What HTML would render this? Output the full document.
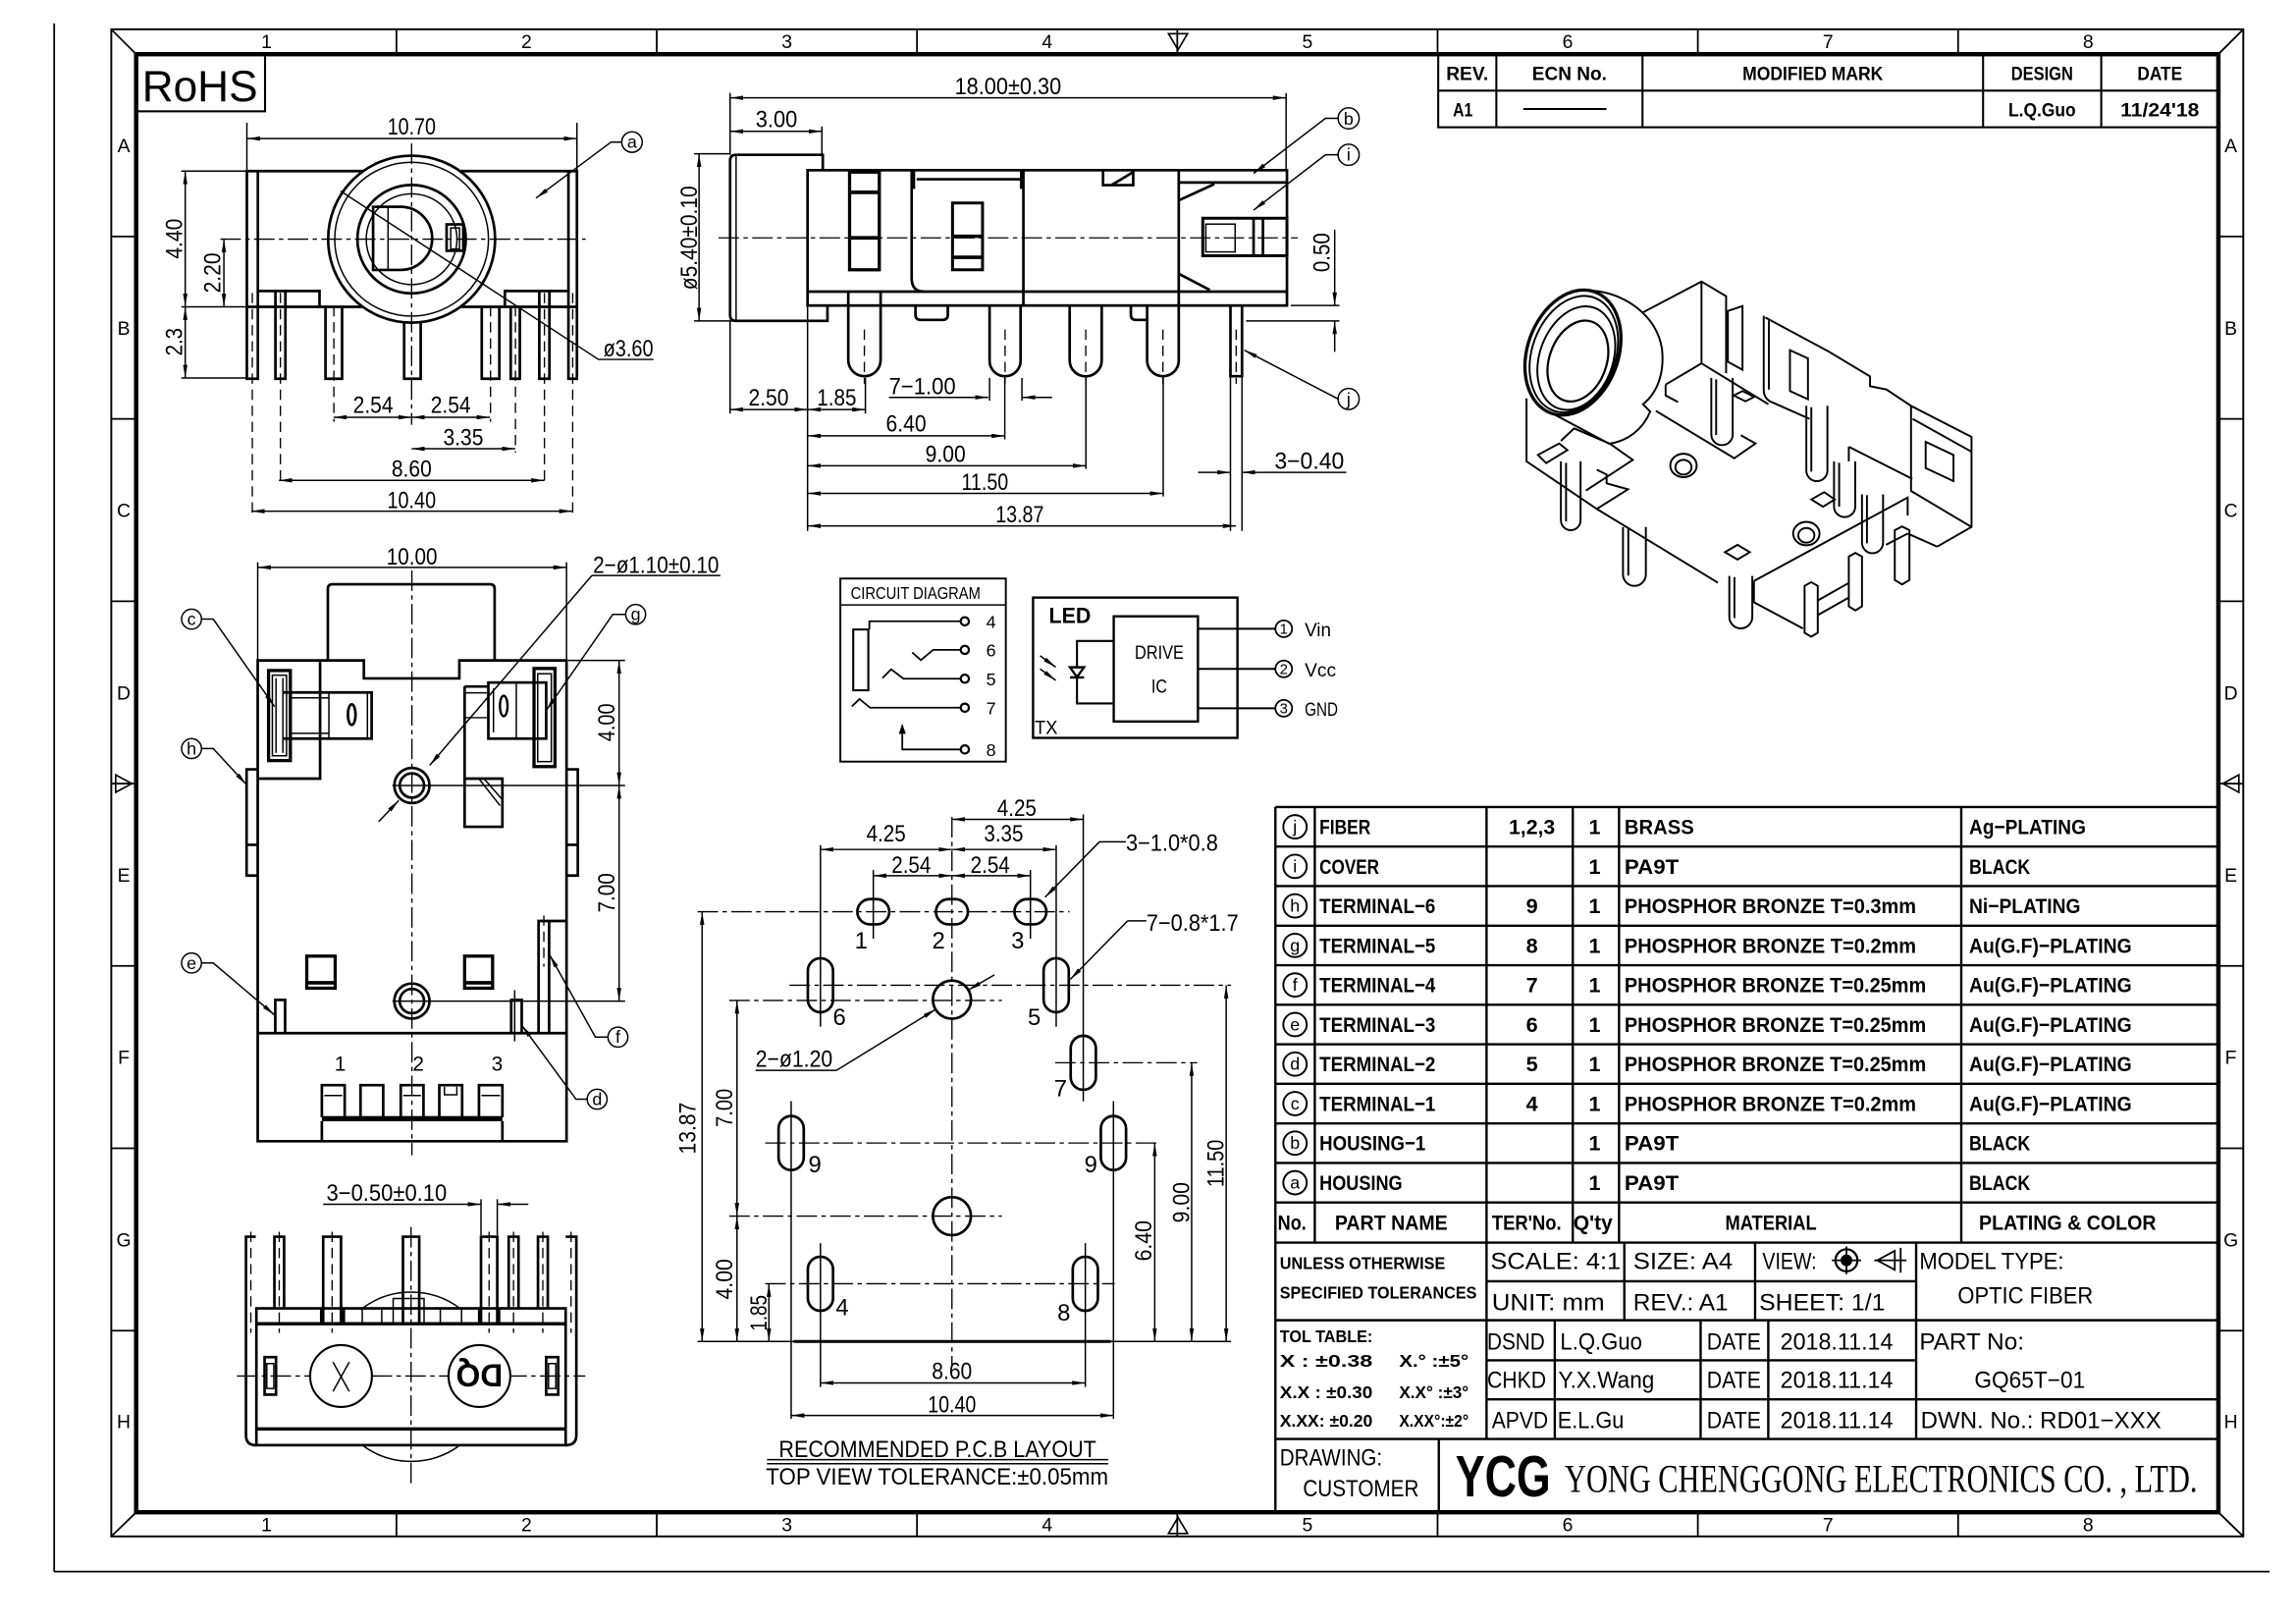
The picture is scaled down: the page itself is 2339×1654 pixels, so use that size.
<!DOCTYPE html>
<html><head><meta charset="utf-8"><style>
html,body{margin:0;padding:0;background:#fff;width:2339px;height:1654px;overflow:hidden}
svg{display:block}
text{font-family:"Liberation Sans",Arial,sans-serif;fill:#000;stroke:none}
.b{font-weight:bold}
.d{font-size:16px}
.m{text-anchor:middle}
.th{stroke-width:1}
.tk{stroke-width:1.8}
.cl{stroke-dasharray:14 3 3 3;stroke-width:.9}
.dl{stroke-dasharray:7 4;stroke-width:.9}
.dm{stroke-width:1;marker-start:url(#A);marker-end:url(#A)}
.ae{stroke-width:1;marker-end:url(#A)}
</style></head><body>
<svg width="2339" height="1654" viewBox="0 0 1568 1108.8" xmlns="http://www.w3.org/2000/svg">
<defs><marker id="A" viewBox="0 0 12 4" refX="12" refY="2" markerWidth="9" markerHeight="3" markerUnits="userSpaceOnUse" orient="auto-start-reverse"><path d="M0,0L12,2L0,4z" fill="#000" stroke="none"/></marker></defs>
<rect width="1568" height="1108.8" fill="#fff"/>
<g fill="none" stroke="#000">
<!-- FRAME -->
<line x1="37" y1="16" x2="37" y2="1073" stroke-width="1.2"/>
<line x1="37" y1="1073" x2="1550" y2="1073" stroke-width="1.2"/>
<rect x="76" y="20" width="1456" height="1029" stroke-width="1.3"/>
<rect x="93" y="37" width="1422" height="995.5" stroke-width="3"/>
<path stroke-width="1.2" d="M76,20L93,37M1532,20L1515,37M1532,1049L1515,1032.5M76,1049L93,1032.5"/>
<path stroke-width="1.2" d="M270.75,20V37M448.5,20V37M626.25,20V37M804,20V37M981.75,20V37M1159.5,20V37M1337.25,20V37M270.75,1032.5V1049M448.5,1032.5V1049M626.25,1032.5V1049M804,1032.5V1049M981.75,1032.5V1049M1159.5,1032.5V1049M1337.25,1032.5V1049"/>
<path stroke-width="1.2" d="M76,161.5H93M76,286H93M76,410.5H93M76,535H93M76,659.5H93M76,784H93M76,908.5H93M1515,161.5H1532M1515,286H1532M1515,410.5H1532M1515,535H1532M1515,659.5H1532M1515,784H1532M1515,908.5H1532"/>
<path stroke-width="1.1" d="M798,23H811L804.5,34ZM798,1047H811L804.5,1036ZM79,529V541L90,535ZM1529,529V541L1518,535Z"/>

<!-- REV TABLE -->
<g stroke-width="1.4">
<rect x="982.2" y="36.7" width="532.8" height="50.2"/>
<path d="M982.2,61.9H1515M1021.9,36.7V86.9M1121.7,36.7V86.9M1354.3,36.7V86.9M1435,36.7V86.9"/>
<path d="M1040.3,74.4H1097.1"/>
</g>
<rect x="93" y="37" width="88" height="39" stroke-width="1.4"/>

<!-- FRONT VIEW (top-left) -->
<path class="tk" d="M168.6,116.8H394V209.5H168.6Z"/>
<path class="tk" d="M176.1,116.8V209.5M388.2,116.8V209.5"/>
<path class="tk" d="M168.6,209.5V258.6H176.1V209.5M388.2,209.5V258.6H394V209.5"/>
<path class="tk" d="M176.1,198.7H218.2V209.5M344.8,209.5V198.7H388.2"/>
<path class="tk" d="M188.1,198.7V258.6H194.9V198.7M222.3,209.5V258.6H233.6V209.5M329,209.5V258.6H341V209.5M348.8,209.5V258.6H355V209.5M368.3,198.7V258.6H375.2V198.7"/>
<circle cx="281.1" cy="163.3" r="57" fill="#fff" class="tk"/>
<circle cx="281.1" cy="163.3" r="52.5" class="th"/>
<circle cx="281.1" cy="163.3" r="37" class="tk"/>
<circle cx="281.1" cy="163.3" r="31" class="th"/>
<path class="tk" d="M276,220.3V258.6H287.3V220.3"/>
<path class="tk" d="M254.8,141.2H273.6A21.5,21.5 0 0 1 273.6,184.3H254.8Z"/>
<path class="th" d="M265,141.2V184.3"/>
<rect class="tk" x="305" y="153.2" width="11.4" height="18"/>
<rect class="th" x="307.8" y="155.6" width="6" height="14.4"/>
<path class="cl" d="M150.5,163.3H400M281.1,98V290"/>
<path class="dl" d="M172.3,200V352M191.5,200V331M228,209V288M335,209V288M352,209V309M371.8,200V331M391.1,200V352"/>
<line class="dm" x1="168.6" y1="94.6" x2="394" y2="94.6"/>
<path class="th" d="M168.6,83.8V116.8M394,83.8V116.8"/>
<line class="dm" x1="126.5" y1="116.8" x2="126.5" y2="209.5"/>
<line class="dm" x1="152.9" y1="163.3" x2="152.9" y2="209.5"/>
<line class="dm" x1="126.5" y1="209.5" x2="126.5" y2="258.1"/>
<path class="th" d="M123.8,116.8H168.6M123.8,209.5H168.6M123.8,258.1H168.6"/>
<line class="dm" x1="227.8" y1="284.9" x2="281.1" y2="284.9"/>
<line class="dm" x1="281.1" y1="284.9" x2="334.5" y2="284.9"/>
<line class="dm" x1="281.1" y1="306.4" x2="351.9" y2="306.4"/>
<line class="dm" x1="190.5" y1="328" x2="371.8" y2="328"/>
<line class="dm" x1="171.7" y1="349" x2="390.9" y2="349"/>
<circle cx="431.6" cy="97" r="7" class="th"/>
<path class="ae" d="M424.6,97H417.3L366,135.3"/>
<path class="th" d="M446.3,245.4H408.7L232.6,130.5"/>

<!-- SIDE VIEW -->
<line class="dm" x1="498.6" y1="66.8" x2="878.3" y2="66.8"/>
<path class="th" d="M498.6,63.5V105.7M878.3,63.5V115.7M561.3,86.4V105.7"/>
<line class="dm" x1="498.6" y1="89.7" x2="561.3" y2="89.7"/>
<path class="tk" d="M561.9,116.2V105.7H502.5Q498.6,105.7 498.6,109.6V215.2Q498.6,219.1 502.5,219.1H565.1V208.6"/>
<path class="th" d="M502.7,106V219"/>
<rect class="tk" x="551.5" y="116.2" width="327.4" height="92.4"/>
<path class="tk" d="M551.5,199.1H878.9"/>
<rect x="580.2" y="117.5" width="20.3" height="66.7" stroke-width="2.2"/>
<path stroke-width="2.5" d="M580.2,131.3H600.5M580.2,162.4H600.5"/>
<path class="tk" d="M622.6,116.2V190Q622.6,199.1 631,199.1M698.9,116.2V208.6M626,122.4H698.9"/>
<path stroke-width="2.4" d="M623.8,116.2V129M697.7,116.2V129"/>
<rect x="650.5" y="138.6" width="20.5" height="45.6" stroke-width="2"/>
<path stroke-width="2.4" d="M650.5,161.3H671M650.5,175.7H671"/>
<path class="tk" d="M753.3,116.2V126.4H773.9V116.2M759,126.4L773.9,117.5"/>
<path class="tk" d="M805,116.2V208.6M805,124.6H878.9M805,136.8L829.3,125.7M805,186.9L826.2,198"/>
<rect x="821.4" y="149" width="57.5" height="25.6" stroke-width="2"/>
<rect class="th" x="823.5" y="153" width="20" height="19"/>
<path class="tk" d="M856.1,149V174.6M862.5,149V174.6"/>
<path class="cl" d="M490.7,162.4H886.2"/>
<path class="tk" d="M579.3,199.1V245.8A11.05,11.05 0 0 0 601.4,245.8V199.1"/>
<path class="tk" d="M675.8,208.6V246.3A10.6,10.6 0 0 0 697,246.3V208.6"/>
<path class="tk" d="M730.5,208.6V246A10.95,10.95 0 0 0 752.4,246V208.6"/>
<path class="tk" d="M783.4,208.6V246.1A10.8,10.8 0 0 0 805,246.1V208.6"/>
<path class="tk" d="M840.3,208.6V256.9H848.2V208.6"/>
<path class="tk" d="M625.2,208.6V215Q625.2,218.4 629,218.4H643.5Q647.3,218.4 647.3,215V208.6M772.3,208.6V215Q772.3,218.4 776,218.4H783.4"/>
<path class="dl" d="M590.3,225V262M686.4,225V262M741.5,225V262M794.2,225V262M844.2,225V262"/>
<line class="dm" x1="498.6" y1="279.6" x2="551.5" y2="279.6"/>
<line class="dm" x1="551.5" y1="279.6" x2="591" y2="279.6"/>
<path class="ae" d="M607.1,271.3H674.9"/>
<path class="ae" d="M718.5,271.3H698"/>
<line class="dm" x1="551.5" y1="297.6" x2="686.2" y2="297.6"/>
<line class="dm" x1="551.5" y1="318" x2="741.6" y2="318"/>
<line class="dm" x1="551.5" y1="336.9" x2="794.4" y2="336.9"/>
<line class="dm" x1="551.5" y1="359.1" x2="844.1" y2="359.1"/>
<path class="th" d="M498.6,219.1V282.4M551.5,208.6V362.5M591,258V282.4M675.8,258V273.5M697.9,258V273.5M686.2,257V300M741.6,257V320.2M794.4,257V339M840.3,257V362.5M848.2,257V362.5"/>
<path class="ae" d="M919.4,322.5H848.2"/>
<path class="ae" d="M818.2,322.5H840.3"/>
<line class="dm" x1="477.4" y1="105" x2="477.4" y2="219.1"/>
<path class="th" d="M474,105H498.6M474,219.1H551.5"/>
<path class="ae" d="M911.5,156.8V208.6"/>
<path class="ae" d="M911.5,240.2V219.1"/>
<path class="th" d="M881.5,208.6H914.7M851,219.1H914.7"/>
<circle cx="921" cy="80.8" r="7.2" class="th"/>
<circle cx="921" cy="105.7" r="7.2" class="th"/>
<circle cx="921" cy="272.4" r="7.2" class="th"/>
<path class="ae" d="M913.8,80.8H905.2L856.1,118.4"/>
<path class="ae" d="M913.8,105.7H905.2L856.1,143.5"/>
<path class="ae" d="M913.8,272.4L849.8,239.1"/>

<!-- CIRCUIT DIAGRAM -->
<rect x="573.9" y="395" width="113" height="125" stroke-width="1.3"/>
<path class="th" d="M573.9,413H686.9"/>
<g stroke-width="1.5">
<circle cx="658.9" cy="424.2" r="2.8"/><circle cx="658.9" cy="443.7" r="2.8"/><circle cx="658.9" cy="463.4" r="2.8"/><circle cx="658.9" cy="483.2" r="2.8"/><circle cx="658.9" cy="511.7" r="2.8"/>
</g>
<path stroke-width="1.2" d="M656.1,424.2H593.7V429.8M656.1,443.7H637.3L628.9,450.7L623,445.5M656.1,463.4H617L608.6,457L602.6,463M656.1,483.2H594.2L587,477.3L581.8,482.2M656.1,511.7H616.2V500"/>
<rect x="582.7" y="429.8" width="10.3" height="41.5" stroke-width="1.4"/>
<path d="M613.8,501L616.2,494L618.6,501Z" fill="#000" stroke="none"/>
<rect x="705.5" y="408" width="139.6" height="95.8" stroke-width="1.6"/>
<rect x="760.6" y="420.8" width="57.5" height="71.8" stroke-width="1.6"/>
<path stroke-width="1.4" d="M818.1,429.3H871M818.1,456.7H871M818.1,483.6H871M760.6,437.6H735.5V480.3H760.6"/>
<circle cx="876.7" cy="429.3" r="5.7" stroke-width="1.2"/>
<circle cx="876.7" cy="456.7" r="5.7" stroke-width="1.2"/>
<circle cx="876.7" cy="483.6" r="5.7" stroke-width="1.2"/>
<path d="M730.7,455.6H740.3L735.5,462.3ZM730.7,462.5H740.3" stroke-width="1.6" fill="#fff"/>
<path class="ae" stroke-width="1.6" d="M710.3,447.7L721,455.5"/>
<path class="ae" stroke-width="1.6" d="M710.3,456.7L721,464.5"/>

<!-- MID-LEFT VIEW -->
<line class="dm" x1="176" y1="387.4" x2="386.9" y2="387.4"/>
<path class="th" d="M176,383.9V450.9M386.9,383.9V450.9"/>
<path class="tk" d="M223.9,450.9V402Q223.9,398.9 227,398.9H334.7Q337.8,398.9 337.8,402V450.9"/>
<path class="tk" d="M176,450.9H248.5V463.2H313.7V450.9H386.9V779.2H176Z"/>
<path class="tk" d="M176,705.4H386.9M218.6,450.9V531.6H176"/>
<rect x="183.4" y="457.8" width="14.9" height="61.5" stroke-width="2.2"/>
<rect class="th" x="186" y="461" width="9.7" height="55"/>
<path class="th" d="M188.5,463V514M193.2,463V514"/>
<path class="tk" d="M193.5,472.8H253.8V504.3H193.5"/>
<path class="th" d="M198.3,476.5H224.6M198.3,500.7H224.6M224.6,472.8V504.3M250.9,472.8V504.3"/>
<ellipse cx="240.2" cy="487.9" rx="2.6" ry="7" stroke-width="1.8"/>
<path class="tk" d="M317.3,468.7V564.5H343.1V531.6H317.3"/>
<path class="th" d="M327,531.6L341.5,550M330.5,531.6L343.1,546"/>
<path class="tk" d="M317.3,468.7H333.5"/>
<rect class="tk" x="333.5" y="466" width="39.5" height="38.3"/>
<path class="th" d="M352.6,466V504.3M337,470V500M317.3,473H333.5M317.3,490H333.5"/>
<ellipse cx="344" cy="482" rx="2.6" ry="7" stroke-width="1.6"/>
<rect x="364.7" y="456.4" width="14.3" height="67" stroke-width="2.2"/>
<rect class="th" x="367.2" y="460" width="9.3" height="60"/>
<circle cx="281.3" cy="536.3" r="12" class="tk"/><circle cx="281.3" cy="536.3" r="8.3" class="tk"/>
<circle cx="281.3" cy="683.5" r="12" class="tk"/><circle cx="281.3" cy="683.5" r="8.3" class="tk"/>
<path class="cl" d="M281.3,389.4V788.8"/>
<path class="th" d="M268,536.3H426.9M268,683.5H426.9M388,450.9H426.9"/>
<rect x="209.5" y="652.8" width="19.4" height="21.9" stroke-width="2.2"/>
<rect x="317.3" y="652.8" width="19.1" height="21.9" stroke-width="2.2"/>
<path stroke-width="2.5" d="M209.5,671H228.9M317.3,671H336.4"/>
<path class="tk" d="M176,525.3H168.4V597.8H176M168.4,576.8H176M386.9,525.3H394.6V597.8H386.9M386.9,576.8H394.6"/>
<path class="tk" d="M188,705.4V682.7H194.7V705.4"/>
<path class="tk" d="M367.8,705.4V628.8H386.9M375,628.8V705.4"/>
<path class="dl" d="M371.4,625V660"/>
<path class="tk" d="M349.1,705.4V682.7H356.3V705.4"/>
<path class="th" d="M351.5,676V711"/>
<path class="tk" d="M219.8,762.8V740.9H235.4V762.8M246.2,762.8V740.9H261.7V762.8M273.7,762.8V740.9H289.2V762.8M300,762.8V740.9H315.6V762.8M327.1,762.8V740.9H343.1V762.8"/>
<rect x="219.8" y="762" width="123.3" height="3.5" fill="#000" stroke="none"/>
<path class="tk" d="M219.8,765.5V779.2M343.1,765.5V779.2"/>
<path class="th" d="M221.5,748H233.7M275.4,748H287.5M328.8,748H341.4M303.5,742V747.5H312V742"/>
<line class="dm" x1="422.8" y1="450.9" x2="422.8" y2="536.3"/>
<line class="dm" x1="422.8" y1="536.3" x2="422.8" y2="683.5"/>
<path class="th" d="M404.2,392.9H492"/>
<path class="ae" d="M404.2,392.9L293.5,522.5"/>
<path class="ae" d="M258.6,561L272.3,546.5"/>
<circle cx="130.8" cy="422.7" r="6.8" class="th"/>
<circle cx="130.8" cy="511.1" r="6.8" class="th"/>
<circle cx="130.8" cy="657.5" r="6.8" class="th"/>
<circle cx="434.1" cy="419.5" r="6.8" class="th"/>
<circle cx="422" cy="708.1" r="6.8" class="th"/>
<circle cx="407.8" cy="750.5" r="6.8" class="th"/>
<path class="ae" d="M137.6,422.7H145.6L187.5,482.4"/>
<path class="ae" d="M137.6,511.1H145.6L168.4,535.7"/>
<path class="ae" d="M137.6,657.5H145.6L187.5,693"/>
<path class="ae" d="M427.3,419.5H418.5L373,485.1"/>
<path class="ae" d="M415.2,708.1H406.6L375.4,652"/>
<path class="ae" d="M401,750.5H393.4L356.3,699.9"/>

<!-- BOTTOM-LEFT VIEW -->
<path class="ae" d="M220.7,822.2H328.5"/>
<path class="ae" d="M360.8,822.2H339.6"/>
<path class="th" d="M328.5,818.8V843.3M339.6,818.8V843.3"/>
<path class="tk" d="M174.7,844.4H168V980Q168,986.7 174.7,986.7M386.3,844.4H393.6V980Q393.6,986.7 386.3,986.7"/>
<path class="tk" d="M187.4,893.3V844.4H194V893.3M220.7,904V844.4H232.9V904M275.2,904V844.4H286.3V904M328.5,904V844.4H339.6V904M347.4,893.3V844.4H354.1V893.3M367.4,893.3V844.4H374.1V893.3"/>
<path class="dl" d="M171.3,841V910M190.7,841V910M226.8,841V910M334,841V910M350.7,841V910M370.7,841V910M390,841V910"/>
<path class="cl" d="M280.7,837.7V1013.4M161.8,939.5H399.7"/>
<rect class="tk" x="175.1" y="893.3" width="211.2" height="93.4"/>
<path stroke-width="2.2" d="M175.1,903.8H386.3M175.1,975.6H386.3"/>
<path class="th" d="M235.2,893.3V903.8M247.4,893.3V903.8M260.7,893.3V903.8M268.5,893.3V903.8M289.6,893.3V903.8M300.7,893.3V903.8M315.2,893.3V903.8"/>
<path d="M218.5,893.3h2.2v10.5h-2.2zM232.9,893.3h2.2v10.5h-2.2zM326.4,893.3h2.1v10.5h-2.1zM339.6,893.3h2.1v10.5h-2.1z" fill="#000" stroke="none"/>
<path class="th" d="M247.4,893.3A55.8,55.8 0 0 1 314.1,893.3M268.5,893.3V886.6H289.6V893.3M247.4,986.7A55.8,55.8 0 0 0 314.1,986.7"/>
<circle cx="232.9" cy="939.5" r="21.1" stroke-width="1.4" fill="#fff"/>
<path class="th" d="M227.4,930L238.5,950M238.5,930L227.4,950"/>
<circle cx="327.4" cy="939.5" r="21.1" stroke-width="1.4" fill="#fff"/>
<rect class="tk" x="180.7" y="926.6" width="7.8" height="25.6"/>
<rect class="th" x="182.2" y="931" width="4.8" height="17"/>
<rect class="tk" x="373" y="926.6" width="8.2" height="25.6"/>
<rect class="th" x="374.6" y="931" width="5" height="17"/>

<!-- PCB LAYOUT -->
<g class="tk" fill="#fff">
<rect x="585.5" y="613.9" width="21.8" height="17.2" rx="8.6"/>
<rect x="639.2" y="613.9" width="21.8" height="17.2" rx="8.6"/>
<rect x="692.8" y="613.9" width="21.8" height="17.2" rx="8.6"/>
<rect x="551.7" y="654.25" width="17.2" height="36.9" rx="8.6"/>
<rect x="712.7" y="654.25" width="17.2" height="36.9" rx="8.6"/>
<rect x="731.2" y="707.15" width="17.2" height="36.9" rx="8.6"/>
<rect x="531.7" y="761.95" width="17.2" height="36.9" rx="8.6"/>
<rect x="751.8" y="761.95" width="17.2" height="36.9" rx="8.6"/>
<rect x="551.7" y="858.05" width="17.2" height="36.9" rx="8.6"/>
<rect x="732.6" y="858.05" width="17.2" height="36.9" rx="8.6"/>
<circle cx="650.1" cy="682.5" r="13"/>
<circle cx="650.1" cy="830.3" r="13"/>
</g>
<path class="cl" d="M476.4,622.5H730.4M539.2,672.7H840.7M498,683.1H684.2M720.6,725.6H817.6M522.6,780.4H792.2M498,830.3H684.2M522.6,876.5H761.2M650.1,557.8V933.4"/>
<path class="th" d="M476.4,915.9H840.7"/>
<path stroke-width="2" d="M542,915.9H758.6"/>
<path class="th" d="M560.3,577V701M721.3,577V701M739.8,556V752M596.4,594V641M703.7,594V641M540.3,751.8V968.7M760.4,751.8V968.7M560.3,848.8V947M741.2,848.8V947"/>
<line class="dm" x1="650.1" y1="559.4" x2="739.8" y2="559.4"/>
<line class="dm" x1="560.3" y1="580" x2="650.1" y2="580"/>
<line class="dm" x1="650.1" y1="580" x2="721.3" y2="580"/>
<line class="dm" x1="596.4" y1="597.9" x2="650.1" y2="597.9"/>
<line class="dm" x1="650.1" y1="597.9" x2="703.7" y2="597.9"/>
<line class="dm" x1="479.5" y1="622.5" x2="479.5" y2="915.9"/>
<line class="dm" x1="503.3" y1="683.1" x2="503.3" y2="830.3"/>
<line class="dm" x1="503.3" y1="830.3" x2="503.3" y2="915.9"/>
<line class="dm" x1="525.1" y1="876.5" x2="525.1" y2="915.9"/>
<line class="dm" x1="788.6" y1="780.4" x2="788.6" y2="915.9"/>
<line class="dm" x1="813.8" y1="725.6" x2="813.8" y2="915.9"/>
<line class="dm" x1="837.4" y1="672.7" x2="837.4" y2="915.9"/>
<line class="dm" x1="560.3" y1="944.2" x2="741.2" y2="944.2"/>
<line class="dm" x1="540.3" y1="966.4" x2="760.4" y2="966.4"/>
<path class="th" d="M750.8,574.8H768.9M770.1,628.7H782.9M516,730.8H571.3"/>
<path class="ae" d="M750.8,574.8L713.7,612.6"/>
<path class="ae" d="M770.1,628.7L730.9,668.7"/>
<path class="ae" d="M571.3,730.8L639.2,689"/>
<path class="ae" d="M679.1,665.6L661.2,676"/>
<path class="th" d="M523.8,996.6H756.9M523.8,999.4H756.9"/>

<!-- PARTS TABLE -->
<g stroke-width="1.6">
<path d="M871,551H1515M871,578H1515M871,605H1515M871,632H1515M871,659H1515M871,686H1515M871,713H1515M871,740H1515M871,767H1515M871,794H1515M871,821H1515M871,848.4H1515"/>
<path d="M871,551V1032.5M897.9,551V848.4M1015.2,551V982.5M1074.1,551V848.4M1105.7,551V848.4M1339.4,551V848.4"/>
<path d="M1015.2,874.8H1308.6M871,901.4H1515M1015.2,928.8H1308.6M1015.2,955.4H1515M871,982.5H1515"/>
<path d="M1109.3,848.4V901.4M1198.6,848.4V901.4M1308.6,848.4V982.5M1061.8,901.4V982.5M1161.4,901.4V982.5M1207.6,901.4V982.5M982.6,982.5V1032.5"/>
</g>
<g stroke-width="1.3">
<circle cx="884.4" cy="564.5" r="8"/><circle cx="884.4" cy="591.5" r="8"/><circle cx="884.4" cy="618.5" r="8"/><circle cx="884.4" cy="645.5" r="8"/><circle cx="884.4" cy="672.5" r="8"/><circle cx="884.4" cy="699.5" r="8"/><circle cx="884.4" cy="726.5" r="8"/><circle cx="884.4" cy="753.5" r="8"/><circle cx="884.4" cy="780.5" r="8"/><circle cx="884.4" cy="807.5" r="8"/>
</g>
<circle cx="1261" cy="860.5" r="7.5" stroke-width="1.5"/>
<circle cx="1261" cy="860.5" r="3.5" fill="#000"/>
<path stroke-width="1.2" d="M1251,860.5H1271M1261,851V870M1280,860.5H1302M1282,860.5L1294,854V867ZM1298,852V869"/>

<!-- ISO VIEW -->
<g stroke-width="1.3">
<ellipse cx="1074.2" cy="240.7" rx="31" ry="44" transform="rotate(20 1074.2 240.7)" stroke-width="2.2"/>
<ellipse cx="1074.8" cy="241.8" rx="28.5" ry="41" transform="rotate(20 1074.8 241.8)"/>
<ellipse cx="1076.5" cy="244.5" rx="25" ry="36.5" transform="rotate(20 1076.5 244.5)"/>
<ellipse cx="1077.6" cy="246.5" rx="19.5" ry="28.5" transform="rotate(20 1077.6 246.5)" stroke-width="1.5"/>
<path d="M1088,198.5C1108,200 1131,214 1135,238C1137,256 1131,269 1122,276L1127,281C1122,293 1112,301 1099,303L1061.5,283"/>
<path d="M1042.5,272V315L1090.5,347.5"/>
<path d="M1050.3,310.6L1064.8,302.8L1070.4,307.3L1055.9,316.2Z"/>
<path d="M1066,301L1075,292.5L1099.5,303L1115.1,314L1083,335"/>
<path d="M1090.5,320.7L1097.2,324V330L1111.8,334.1L1090.5,347.5"/>
<path d="M1121.8,213.4L1162,192.2L1178.8,202.2V254.8M1162,192.2V248.1L1137.5,262.6M1162,248.1L1207.7,276"/>
<path d="M1180,212.3L1190,209V252.5L1180,247Z"/>
<path d="M1137.5,262.6V270L1146,274.5M1130.8,280.5L1184.4,312.9L1198.9,302.8L1188.9,297.2"/>
<path d="M1184,270L1190,267L1198,271L1192,274Z"/>
<path d="M1204.5,215.6V266Q1204.5,273 1211,275L1235.8,286M1208,217.5V266M1205.6,216.8L1249.2,240.2L1277.1,257V263.7L1288.3,265.9L1305.1,277.1L1346.4,298.3V359.8L1323,373.2"/>
<path d="M1222.4,239.1L1234.7,244.7V272.6L1222.4,267Z"/>
<path d="M1305.1,277.1V335.2L1346.4,359.8M1306.2,286L1346.4,308.4M1315.1,301.7L1334.1,310.6V328.5L1315.1,319.6Z"/>
<path d="M1262.6,305L1306,327M1262.6,305V315"/>
<path d="M1090.5,347.5L1173.2,397.8M1197.8,396.7L1302.8,339.7V352M1197.8,396.7V411.2L1231.3,429.1M1302.8,364.3L1323,373.2M1302.8,364.3L1288,372"/>
<path d="M1066,315V355.3A6.7,6.7 0 0 0 1079.4,355.3V315M1069.5,316V356"/>
<path d="M1108.4,359.8V392.2A7.8,7.8 0 0 0 1124,392.2V359.8M1112,361V393"/>
<path d="M1181,393.3V421.2A7.85,7.85 0 0 0 1196.7,421.2V393.3M1184.5,394V422"/>
<path d="M1168.7,258V296.6A7.3,7.3 0 0 0 1183.3,296.6V258M1172,259V297"/>
<path d="M1233.6,277V321.3A7.2,7.2 0 0 0 1248,321.3V277M1237,278V322"/>
<path d="M1252.5,315V345.8A7.25,7.25 0 0 0 1267,345.8V315M1256,316V346"/>
<path d="M1271.6,337.5V370.5A7.2,7.2 0 0 0 1286,370.5V337.5M1275,338V371"/>
<path d="M1232.4,403V432L1236.9,434.7L1241.4,432V400L1236.9,397.5L1232.4,400Z"/>
<path d="M1262.6,383V414L1267.1,416.8L1271.6,414V380L1267.1,377.5L1262.6,380Z"/>
<path d="M1294,365V396L1299,399L1304,396V362L1299,359.5L1294,362Z"/>
<path d="M1241.4,410L1262.6,398M1241.4,420L1262.6,408"/>
<ellipse cx="1149.7" cy="317.8" rx="9" ry="8"/><ellipse cx="1149.7" cy="319" rx="5.5" ry="5"/>
<ellipse cx="1233.6" cy="364.3" rx="9" ry="8"/><ellipse cx="1233.6" cy="365.5" rx="5.5" ry="5"/>
<path d="M1178,377L1186.6,372L1195,377L1186.6,382ZM1237,341L1245.8,336L1253,341L1245,346Z"/>
</g>
</g>

<!-- TEXT -->
<g font-size="13">
<text class="m" x="182" y="33">1</text><text class="m" x="359.6" y="33">2</text><text class="m" x="537.4" y="33">3</text><text class="m" x="715.1" y="33">4</text><text class="m" x="892.9" y="33">5</text><text class="m" x="1070.6" y="33">6</text><text class="m" x="1248.4" y="33">7</text><text class="m" x="1426.1" y="33">8</text>
<text class="m" x="182" y="1045.5">1</text><text class="m" x="359.6" y="1045.5">2</text><text class="m" x="537.4" y="1045.5">3</text><text class="m" x="715.1" y="1045.5">4</text><text class="m" x="892.9" y="1045.5">5</text><text class="m" x="1070.6" y="1045.5">6</text><text class="m" x="1248.4" y="1045.5">7</text><text class="m" x="1426.1" y="1045.5">8</text>
<text class="m" x="84.5" y="104">A</text><text class="m" x="84.5" y="228.5">B</text><text class="m" x="84.5" y="353">C</text><text class="m" x="84.5" y="477.5">D</text><text class="m" x="84.5" y="602">E</text><text class="m" x="84.5" y="726.5">F</text><text class="m" x="84.5" y="851">G</text><text class="m" x="84.5" y="975">H</text>
<text class="m" x="1523.5" y="104">A</text><text class="m" x="1523.5" y="228.5">B</text><text class="m" x="1523.5" y="353">C</text><text class="m" x="1523.5" y="477.5">D</text><text class="m" x="1523.5" y="602">E</text><text class="m" x="1523.5" y="726.5">F</text><text class="m" x="1523.5" y="851">G</text><text class="m" x="1523.5" y="975">H</text>
</g>
<text x="97" y="69" font-size="30" textLength="79" lengthAdjust="spacingAndGlyphs">RoHS</text>
<g class="b" font-size="13">
<text class="m" x="1002" y="54.5" textLength="28.8" lengthAdjust="spacingAndGlyphs">REV.</text>
<text class="m" x="1071.8" y="54.5" textLength="51" lengthAdjust="spacingAndGlyphs">ECN No.</text>
<text class="m" x="1238" y="54.5" textLength="96" lengthAdjust="spacingAndGlyphs">MODIFIED MARK</text>
<text class="m" x="1394.6" y="54.5" textLength="42.3" lengthAdjust="spacingAndGlyphs">DESIGN</text>
<text class="m" x="1475" y="54.5" textLength="30.7" lengthAdjust="spacingAndGlyphs">DATE</text>
<text class="m" x="999" y="79.5" textLength="13.5" lengthAdjust="spacingAndGlyphs">A1</text>
<text class="m" x="1394.6" y="79.5" textLength="46" lengthAdjust="spacingAndGlyphs">L.Q.Guo</text>
<text class="m" x="1475" y="79.5" textLength="53.8" lengthAdjust="spacingAndGlyphs">11/24'18</text>
</g>

<g class="d">
<!-- front view -->
<text class="m" x="281.1" y="92" textLength="33" lengthAdjust="spacingAndGlyphs">10.70</text>
<text class="m" x="124.5" y="163" transform="rotate(-90 124.5 163)" textLength="27.5" lengthAdjust="spacingAndGlyphs">4.40</text>
<text class="m" x="150.5" y="186.3" transform="rotate(-90 150.5 186.3)" textLength="27.5" lengthAdjust="spacingAndGlyphs">2.20</text>
<text class="m" x="124.5" y="233.4" transform="rotate(-90 124.5 233.4)" textLength="19" lengthAdjust="spacingAndGlyphs">2.3</text>
<text class="m" x="254.8" y="282" textLength="27.4" lengthAdjust="spacingAndGlyphs">2.54</text>
<text class="m" x="307.8" y="282" textLength="27.4" lengthAdjust="spacingAndGlyphs">2.54</text>
<text class="m" x="316.4" y="304" textLength="27.4" lengthAdjust="spacingAndGlyphs">3.35</text>
<text class="m" x="281.1" y="325.6" textLength="27.4" lengthAdjust="spacingAndGlyphs">8.60</text>
<text class="m" x="281.1" y="347" textLength="33.2" lengthAdjust="spacingAndGlyphs">10.40</text>
<text x="412" y="243.5" textLength="34.2" lengthAdjust="spacingAndGlyphs">ø3.60</text>
<!-- side view -->
<text class="m" x="688.4" y="64.5" textLength="72.8" lengthAdjust="spacingAndGlyphs">18.00±0.30</text>
<text class="m" x="530.3" y="86.8" textLength="28.5" lengthAdjust="spacingAndGlyphs">3.00</text>
<text class="m" x="476" y="162.4" transform="rotate(-90 476 162.4)" textLength="71" lengthAdjust="spacingAndGlyphs">ø5.40±0.10</text>
<text class="m" x="908" y="172.4" transform="rotate(-90 908 172.4)" textLength="26.7" lengthAdjust="spacingAndGlyphs">0.50</text>
<text class="m" x="524.9" y="276.9" textLength="27.5" lengthAdjust="spacingAndGlyphs">2.50</text>
<text class="m" x="571.4" y="276.9" textLength="26.9" lengthAdjust="spacingAndGlyphs">1.85</text>
<text x="607.1" y="269" textLength="45.6" lengthAdjust="spacingAndGlyphs">7−1.00</text>
<text class="m" x="618.8" y="294.7" textLength="27.5" lengthAdjust="spacingAndGlyphs">6.40</text>
<text class="m" x="645.7" y="315.5" textLength="27.5" lengthAdjust="spacingAndGlyphs">9.00</text>
<text class="m" x="672.6" y="334.5" textLength="32" lengthAdjust="spacingAndGlyphs">11.50</text>
<text class="m" x="696.4" y="356.5" textLength="33" lengthAdjust="spacingAndGlyphs">13.87</text>
<text x="870.4" y="320" textLength="47.5" lengthAdjust="spacingAndGlyphs">3−0.40</text>
<!-- mid-left view -->
<text class="m" x="281.3" y="385.3" textLength="34.7" lengthAdjust="spacingAndGlyphs">10.00</text>
<text x="405" y="391" textLength="86" lengthAdjust="spacingAndGlyphs">2−ø1.10±0.10</text>
<text class="m" x="419.7" y="493.3" transform="rotate(-90 419.7 493.3)" textLength="26" lengthAdjust="spacingAndGlyphs">4.00</text>
<text class="m" x="419.7" y="609.6" transform="rotate(-90 419.7 609.6)" textLength="27" lengthAdjust="spacingAndGlyphs">7.00</text>
<text class="m" x="232.3" y="731" font-size="14">1</text>
<text class="m" x="285.7" y="731" font-size="14">2</text>
<text class="m" x="339.5" y="731" font-size="14">3</text>
<!-- bottom-left -->
<text x="222.9" y="820" textLength="82.3" lengthAdjust="spacingAndGlyphs">3−0.50±0.10</text>
<!-- PCB -->
<text class="m" x="694.4" y="557" textLength="26.9" lengthAdjust="spacingAndGlyphs">4.25</text>
<text class="m" x="605.1" y="574.5" textLength="26.9" lengthAdjust="spacingAndGlyphs">4.25</text>
<text class="m" x="685.4" y="574.5" textLength="26.9" lengthAdjust="spacingAndGlyphs">3.35</text>
<text class="m" x="622.3" y="596" textLength="26.9" lengthAdjust="spacingAndGlyphs">2.54</text>
<text class="m" x="676.2" y="596" textLength="26.9" lengthAdjust="spacingAndGlyphs">2.54</text>
<text x="768.9" y="581" textLength="62.9" lengthAdjust="spacingAndGlyphs">3−1.0*0.8</text>
<text x="782.9" y="635.5" textLength="62.9" lengthAdjust="spacingAndGlyphs">7−0.8*1.7</text>
<text x="516" y="728.5" textLength="52.6" lengthAdjust="spacingAndGlyphs">2−ø1.20</text>
<text class="m" x="588.1" y="647.5">1</text>
<text class="m" x="641" y="647.5">2</text>
<text class="m" x="695" y="647.5">3</text>
<text class="m" x="573.3" y="700">6</text>
<text class="m" x="706.3" y="700">5</text>
<text class="m" x="724.3" y="748.5">7</text>
<text class="m" x="556.5" y="800.3">9</text>
<text class="m" x="745" y="800.3">9</text>
<text class="m" x="575.2" y="897.8">4</text>
<text class="m" x="726.5" y="901.8">8</text>
<text class="m" x="475" y="770.3" transform="rotate(-90 475 770.3)" textLength="35.4" lengthAdjust="spacingAndGlyphs">13.87</text>
<text class="m" x="500" y="756.4" transform="rotate(-90 500 756.4)" textLength="26.2" lengthAdjust="spacingAndGlyphs">7.00</text>
<text class="m" x="500" y="873.4" transform="rotate(-90 500 873.4)" textLength="27.7" lengthAdjust="spacingAndGlyphs">4.00</text>
<text class="m" x="523.5" y="896.5" transform="rotate(-90 523.5 896.5)" textLength="24.6" lengthAdjust="spacingAndGlyphs">1.85</text>
<text class="m" x="786.5" y="847.2" transform="rotate(-90 786.5 847.2)" textLength="27.7" lengthAdjust="spacingAndGlyphs">6.40</text>
<text class="m" x="812" y="821" transform="rotate(-90 812 821)" textLength="27.7" lengthAdjust="spacingAndGlyphs">9.00</text>
<text class="m" x="835.5" y="794.3" transform="rotate(-90 835.5 794.3)" textLength="32.3" lengthAdjust="spacingAndGlyphs">11.50</text>
<text class="m" x="650.1" y="941.5" textLength="27.5" lengthAdjust="spacingAndGlyphs">8.60</text>
<text class="m" x="650.1" y="964.5" textLength="33" lengthAdjust="spacingAndGlyphs">10.40</text>
<text class="m" x="640.3" y="995" textLength="216.8" lengthAdjust="spacingAndGlyphs">RECOMMENDED P.C.B LAYOUT</text>
<text class="m" x="640" y="1013.5" textLength="233.8" lengthAdjust="spacingAndGlyphs">TOP VIEW TOLERANCE:±0.05mm</text>
</g>
<text class="b" x="327.4" y="947.5" font-size="22" text-anchor="middle" transform="rotate(180 327.4 939.5)" textLength="32" lengthAdjust="spacingAndGlyphs">DQ</text>

<!-- leader letters -->
<g font-size="12" class="m">
<text x="431.6" y="101">a</text>
<text x="921" y="85">b</text>
<text x="921" y="109.7">i</text>
<text x="921" y="276.4">j</text>
<text x="130.8" y="426.7">c</text>
<text x="130.8" y="515.1">h</text>
<text x="130.8" y="661.5">e</text>
<text x="434.1" y="423.5">g</text>
<text x="422" y="712.1">f</text>
<text x="407.8" y="754.5">d</text>
</g>

<!-- circuit texts -->
<text x="581" y="409" font-size="12" textLength="88.6" lengthAdjust="spacingAndGlyphs">CIRCUIT DIAGRAM</text>
<g font-size="12" class="m">
<text x="676.8" y="428.7">4</text><text x="676.8" y="448.2">6</text><text x="676.8" y="467.9">5</text><text x="676.8" y="487.7">7</text><text x="676.8" y="516.2">8</text>
</g>
<text class="b" x="716.3" y="425.3" font-size="15" textLength="28.7" lengthAdjust="spacingAndGlyphs">LED</text>
<text class="m" x="791.7" y="449.8" font-size="13" textLength="33.5" lengthAdjust="spacingAndGlyphs">DRIVE</text>
<text class="m" x="791.7" y="473" font-size="13" textLength="10.8" lengthAdjust="spacingAndGlyphs">IC</text>
<text x="706.7" y="501" font-size="13" textLength="15.6" lengthAdjust="spacingAndGlyphs">TX</text>
<g font-size="10" class="m"><text x="876.7" y="432.8">1</text><text x="876.7" y="460.2">2</text><text x="876.7" y="487.1">3</text></g>
<g font-size="13">
<text x="891" y="434.5" textLength="18" lengthAdjust="spacingAndGlyphs">Vin</text>
<text x="891" y="461.9" textLength="21.5" lengthAdjust="spacingAndGlyphs">Vcc</text>
<text x="891" y="488.8" textLength="22.7" lengthAdjust="spacingAndGlyphs">GND</text>
</g>

<!-- parts table text -->
<g font-size="12" class="m">
<text x="884.4" y="568.5">j</text><text x="884.4" y="595.5">i</text><text x="884.4" y="622.5">h</text><text x="884.4" y="649.5">g</text><text x="884.4" y="676.5">f</text><text x="884.4" y="703.5">e</text><text x="884.4" y="730.5">d</text><text x="884.4" y="757.5">c</text><text x="884.4" y="784.5">b</text><text x="884.4" y="811.5">a</text>
</g>
<g class="b" font-size="14.5">
<text x="901.1" y="569.5" textLength="34.9" lengthAdjust="spacingAndGlyphs">FIBER</text>
<text x="901.1" y="596.5" textLength="40.8" lengthAdjust="spacingAndGlyphs">COVER</text>
<text x="901.1" y="623.5" textLength="79.2" lengthAdjust="spacingAndGlyphs">TERMINAL−6</text>
<text x="901.1" y="650.5" textLength="79.2" lengthAdjust="spacingAndGlyphs">TERMINAL−5</text>
<text x="901.1" y="677.5" textLength="79.2" lengthAdjust="spacingAndGlyphs">TERMINAL−4</text>
<text x="901.1" y="704.5" textLength="79.2" lengthAdjust="spacingAndGlyphs">TERMINAL−3</text>
<text x="901.1" y="731.5" textLength="79.2" lengthAdjust="spacingAndGlyphs">TERMINAL−2</text>
<text x="901.1" y="758.5" textLength="79.2" lengthAdjust="spacingAndGlyphs">TERMINAL−1</text>
<text x="901.1" y="785.5" textLength="72.4" lengthAdjust="spacingAndGlyphs">HOUSING−1</text>
<text x="901.1" y="812.5" textLength="56.6" lengthAdjust="spacingAndGlyphs">HOUSING</text>
<text class="m" x="1046.2" y="569.5" textLength="31.7" lengthAdjust="spacingAndGlyphs">1,2,3</text>
<text class="m" x="1046.2" y="623.5">9</text>
<text class="m" x="1046.2" y="650.5">8</text>
<text class="m" x="1046.2" y="677.5">7</text>
<text class="m" x="1046.2" y="704.5">6</text>
<text class="m" x="1046.2" y="731.5">5</text>
<text class="m" x="1046.2" y="758.5">4</text>
<text class="m" x="1089" y="569.5">1</text><text class="m" x="1089" y="596.5">1</text><text class="m" x="1089" y="623.5">1</text><text class="m" x="1089" y="650.5">1</text><text class="m" x="1089" y="677.5">1</text><text class="m" x="1089" y="704.5">1</text><text class="m" x="1089" y="731.5">1</text><text class="m" x="1089" y="758.5">1</text><text class="m" x="1089" y="785.5">1</text><text class="m" x="1089" y="812.5">1</text>
<text x="1109.4" y="569.5" textLength="47.5" lengthAdjust="spacingAndGlyphs">BRASS</text>
<text x="1109.4" y="596.5" textLength="37.1" lengthAdjust="spacingAndGlyphs">PA9T</text>
<text x="1109.4" y="623.5" textLength="199.2" lengthAdjust="spacingAndGlyphs">PHOSPHOR BRONZE T=0.3mm</text>
<text x="1109.4" y="650.5" textLength="199.2" lengthAdjust="spacingAndGlyphs">PHOSPHOR BRONZE T=0.2mm</text>
<text x="1109.4" y="677.5" textLength="206" lengthAdjust="spacingAndGlyphs">PHOSPHOR BRONZE T=0.25mm</text>
<text x="1109.4" y="704.5" textLength="206" lengthAdjust="spacingAndGlyphs">PHOSPHOR BRONZE T=0.25mm</text>
<text x="1109.4" y="731.5" textLength="206" lengthAdjust="spacingAndGlyphs">PHOSPHOR BRONZE T=0.25mm</text>
<text x="1109.4" y="758.5" textLength="199.2" lengthAdjust="spacingAndGlyphs">PHOSPHOR BRONZE T=0.2mm</text>
<text x="1109.4" y="785.5" textLength="37.1" lengthAdjust="spacingAndGlyphs">PA9T</text>
<text x="1109.4" y="812.5" textLength="37.1" lengthAdjust="spacingAndGlyphs">PA9T</text>
<text x="1344.8" y="569.5" textLength="79.7" lengthAdjust="spacingAndGlyphs">Ag−PLATING</text>
<text x="1344.8" y="596.5" textLength="41.7" lengthAdjust="spacingAndGlyphs">BLACK</text>
<text x="1344.8" y="623.5" textLength="76" lengthAdjust="spacingAndGlyphs">Ni−PLATING</text>
<text x="1344.8" y="650.5" textLength="111" lengthAdjust="spacingAndGlyphs">Au(G.F)−PLATING</text>
<text x="1344.8" y="677.5" textLength="111" lengthAdjust="spacingAndGlyphs">Au(G.F)−PLATING</text>
<text x="1344.8" y="704.5" textLength="111" lengthAdjust="spacingAndGlyphs">Au(G.F)−PLATING</text>
<text x="1344.8" y="731.5" textLength="111" lengthAdjust="spacingAndGlyphs">Au(G.F)−PLATING</text>
<text x="1344.8" y="758.5" textLength="111" lengthAdjust="spacingAndGlyphs">Au(G.F)−PLATING</text>
<text x="1344.8" y="785.5" textLength="41.7" lengthAdjust="spacingAndGlyphs">BLACK</text>
<text x="1344.8" y="812.5" textLength="41.7" lengthAdjust="spacingAndGlyphs">BLACK</text>
<text x="872.6" y="839.5" textLength="19.5" lengthAdjust="spacingAndGlyphs">No.</text>
<text class="m" x="950.1" y="839.5" textLength="77" lengthAdjust="spacingAndGlyphs">PART NAME</text>
<text class="m" x="1042.6" y="839.5" textLength="47.5" lengthAdjust="spacingAndGlyphs">TER'No.</text>
<text class="m" x="1087.9" y="839.5" textLength="26.7" lengthAdjust="spacingAndGlyphs">Q'ty</text>
<text class="m" x="1209.4" y="839.5" textLength="62.5" lengthAdjust="spacingAndGlyphs">MATERIAL</text>
<text class="m" x="1412" y="839.5" textLength="121" lengthAdjust="spacingAndGlyphs">PLATING &amp; COLOR</text>
</g>
<g class="b" font-size="12">
<text x="874" y="866.5" textLength="113" lengthAdjust="spacingAndGlyphs">UNLESS OTHERWISE</text>
<text x="874" y="886.5" textLength="134.5" lengthAdjust="spacingAndGlyphs">SPECIFIED TOLERANCES</text>
<text x="874" y="916.5" textLength="63.4" lengthAdjust="spacingAndGlyphs">TOL TABLE:</text>
<text x="874" y="933" textLength="63.4" lengthAdjust="spacingAndGlyphs">X  : ±0.38</text>
<text x="955.5" y="933" textLength="47.5" lengthAdjust="spacingAndGlyphs">X.° :±5°</text>
<text x="874" y="954.5" textLength="63.4" lengthAdjust="spacingAndGlyphs">X.X : ±0.30</text>
<text x="955.5" y="954.5" textLength="47.5" lengthAdjust="spacingAndGlyphs">X.X° :±3°</text>
<text x="874" y="974" textLength="63.4" lengthAdjust="spacingAndGlyphs">X.XX: ±0.20</text>
<text x="955.5" y="974" textLength="47.5" lengthAdjust="spacingAndGlyphs">X.XX°:±2°</text>
</g>
<g font-size="16">
<text x="1017.9" y="866.5" textLength="89" lengthAdjust="spacingAndGlyphs">SCALE: 4:1</text>
<text x="1115.3" y="866.5" textLength="68" lengthAdjust="spacingAndGlyphs">SIZE:  A4</text>
<text x="1203.6" y="866.5" textLength="37" lengthAdjust="spacingAndGlyphs">VIEW:</text>
<text x="1310.8" y="866.5" textLength="98.7" lengthAdjust="spacingAndGlyphs">MODEL TYPE:</text>
<text x="1018.8" y="894.5" textLength="77" lengthAdjust="spacingAndGlyphs">UNIT:  mm</text>
<text x="1115.3" y="894.5" textLength="65" lengthAdjust="spacingAndGlyphs">REV.: A1</text>
<text x="1201.4" y="894.5" textLength="86" lengthAdjust="spacingAndGlyphs">SHEET:  1/1</text>
<text x="1337" y="890" textLength="92.4" lengthAdjust="spacingAndGlyphs">OPTIC FIBER</text>
<text x="1015.6" y="921.5" textLength="39.4" lengthAdjust="spacingAndGlyphs">DSND</text>
<text x="1065.5" y="921.5" textLength="56" lengthAdjust="spacingAndGlyphs">L.Q.Guo</text>
<text x="1165.6" y="921.5" textLength="37" lengthAdjust="spacingAndGlyphs">DATE</text>
<text x="1215.8" y="921.5" textLength="77" lengthAdjust="spacingAndGlyphs">2018.11.14</text>
<text x="1310.8" y="921.5" textLength="71.5" lengthAdjust="spacingAndGlyphs">PART No:</text>
<text x="1015.6" y="947.5" textLength="40.3" lengthAdjust="spacingAndGlyphs">CHKD</text>
<text x="1064.2" y="947.5" textLength="65.6" lengthAdjust="spacingAndGlyphs">Y.X.Wang</text>
<text x="1165.6" y="947.5" textLength="37" lengthAdjust="spacingAndGlyphs">DATE</text>
<text x="1215.8" y="947.5" textLength="77" lengthAdjust="spacingAndGlyphs">2018.11.14</text>
<text x="1348.4" y="947.5" textLength="75.6" lengthAdjust="spacingAndGlyphs">GQ65T−01</text>
<text x="1018.8" y="975" textLength="38.5" lengthAdjust="spacingAndGlyphs">APVD</text>
<text x="1063.7" y="975" textLength="45.3" lengthAdjust="spacingAndGlyphs">E.L.Gu</text>
<text x="1165.6" y="975" textLength="37" lengthAdjust="spacingAndGlyphs">DATE</text>
<text x="1215.8" y="975" textLength="77" lengthAdjust="spacingAndGlyphs">2018.11.14</text>
<text x="1311.7" y="975" textLength="164.3" lengthAdjust="spacingAndGlyphs">DWN. No.:  RD01−XXX</text>
<text x="874" y="1000.5" textLength="70" lengthAdjust="spacingAndGlyphs">DRAWING:</text>
<text x="889.8" y="1021.5" textLength="79.2" lengthAdjust="spacingAndGlyphs">CUSTOMER</text>
</g>
<text class="b" x="994" y="1021.5" font-size="40" textLength="65" lengthAdjust="spacingAndGlyphs">YCG</text>
<text x="1068.6" y="1018.5" font-family="Liberation Serif, serif" style="font-family:'Liberation Serif',serif" font-size="27" textLength="432" lengthAdjust="spacingAndGlyphs">YONG CHENGGONG ELECTRONICS CO. , LTD.</text>
</svg>
</body></html>
